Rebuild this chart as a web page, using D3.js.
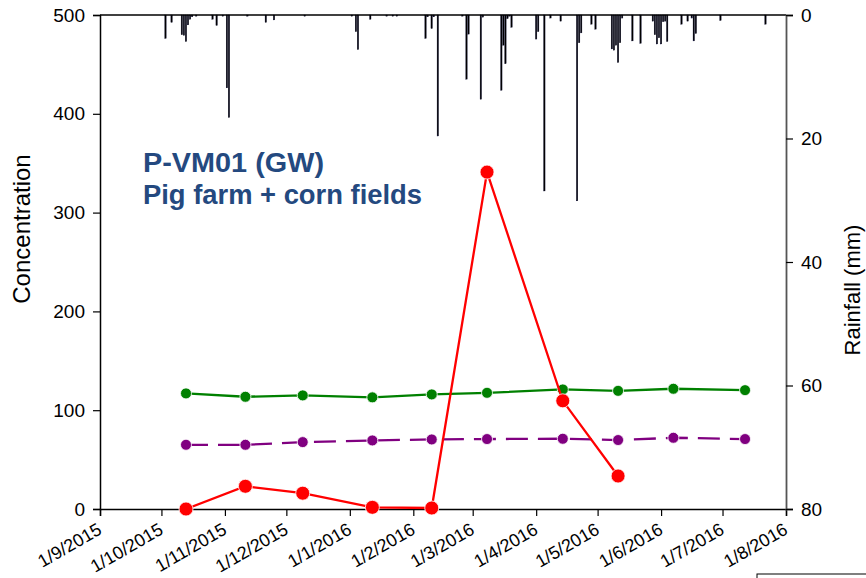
<!DOCTYPE html>
<html>
<head>
<meta charset="utf-8">
<script src="https://cdn.jsdelivr.net/npm/d3@7"></script>
<style>
  body { margin: 0; background: #fff; }
  svg { display: block; }
  text { font-family: "Liberation Sans", Arial, sans-serif; }
</style>
</head>
<body>
<svg id="chart" width="866" height="578"></svg>
<script>
// ---------- data ----------
const xTickLabels = ["1/9/2015","1/10/2015","1/11/2015","1/12/2015","1/1/2016","1/2/2016","1/3/2016","1/4/2016","1/5/2016","1/6/2016","1/7/2016","1/8/2016"];
const yLeftTicks = [0, 100, 200, 300, 400, 500];
const yRightTicks = [0, 20, 40, 60, 80];

const sampleDates = ["2015-10-13","2015-11-11","2015-12-09","2016-01-12","2016-02-10","2016-03-08","2016-04-14","2016-05-11","2016-06-07","2016-07-12"];
const greenValues  = [117, 113.6, 115, 113, 116, 117.6, 121, 119.6, 121.7, 120.3];
const purpleValues = [65, 65, 67.7, 69.4, 70.4, 70.8, 71.1, 69.8, 72.1, 70.8];
const redValues    = [0, 23, 16, 1.7, 1, 341, 109.5, 33.4];

const rainDates = ["2015-10-03","2015-10-06","2015-10-11","2015-10-12","2015-10-13","2015-10-14","2015-10-15","2015-10-16","2015-10-18","2015-10-26","2015-10-28","2015-10-31","2015-11-02","2015-11-03","2015-11-12","2015-11-21","2015-11-25","2015-12-10",
  "2016-01-02","2016-01-04","2016-01-05","2016-01-11","2016-01-19","2016-01-22","2016-01-24","2016-02-07","2016-02-08","2016-02-10","2016-02-11","2016-02-13","2016-02-25","2016-02-27","2016-02-28",
  "2016-03-05","2016-03-06","2016-03-15","2016-03-16","2016-03-17","2016-03-18","2016-03-19","2016-03-20","2016-04-01","2016-04-02","2016-04-05","2016-04-08","2016-04-13","2016-04-21","2016-04-22","2016-04-23","2016-04-28","2016-04-30",
  "2016-05-08","2016-05-09","2016-05-10","2016-05-11","2016-05-12","2016-05-13","2016-05-18","2016-05-22","2016-05-28","2016-05-29","2016-05-30","2016-05-31","2016-06-01","2016-06-02","2016-06-03","2016-06-04",
  "2016-06-11","2016-06-14","2016-06-16","2016-06-17","2016-06-18","2016-06-30","2016-07-22"];
const rainMm = [3.8, 1.2, 3.2, 3.3, 4.3, 1.6, 0.7, 0.3, 0.2, 0.7, 1.7, 0.2, 11.8, 16.6, 0.2, 1.2, 0.8, 0.2,
  0.2, 2.7, 5.6, 0.7, 0.2, 0.2, 0.2, 3.8, 0.3, 2.2, 0.3, 19.6, 0.2, 10.4, 3.1,
  13.65, 0.35, 12.2, 4.9, 7.9, 0.6, 0.2, 2.0, 3.9, 2.7, 28.5, 0.5, 1.0, 30.1, 4.5, 2.9, 1.5, 2.3,
  5.5, 5.7, 4.9, 7.7, 4.5, 0.5, 4.2, 4.6, 1.0, 3.2, 4.7, 3.7, 4.7, 1.1, 1.0, 4.3,
  1.5, 1.0, 0.5, 4.2, 3.0, 0.9, 1.5];

const titleLines = ["P-VM01 (GW)", "Pig farm + corn fields"];

// ---------- setup ----------
const parseISO = d3.utcParse("%Y-%m-%d");
const parseTick = d3.utcParse("%d/%m/%Y");
const fmtTick = d => `${d.getUTCDate()}/${d.getUTCMonth() + 1}/${d.getUTCFullYear()}`;

const L = 100, R = 786, T = 15, B = 509;
const svg = d3.select("#chart");

const tickDates = xTickLabels.map(parseTick);
const x = d3.scaleUtc().domain([tickDates[0], tickDates[tickDates.length - 1]]).range([L, R]);
const y = d3.scaleLinear().domain([0, 500]).range([B, T]);
const y2 = d3.scaleLinear().domain([0, 80]).range([T, B]);

// ---------- rainfall bars ----------
const dayW = x(parseISO("2016-01-02")) - x(parseISO("2016-01-01"));
const rain = rainDates.map((d, i) => ({ date: parseISO(d), mm: rainMm[i] }));
svg.append("g").selectAll("rect").data(rain).join("rect")
  .attr("x", d => x(d.date) - dayW * 0.4)
  .attr("width", dayW * 0.75)
  .attr("y", y2(0))
  .attr("height", d => y2(d.mm) - y2(0))
  .attr("fill", "#000")
  .attr("stroke", "#15153f")
  .attr("stroke-width", 0.3);

// ---------- frame / axes ----------
svg.append("line").attr("x1", L).attr("x2", R).attr("y1", T).attr("y2", T)
  .attr("stroke", "#000").attr("stroke-width", 1.5);

const xAxis = svg.append("g").attr("transform", `translate(0,${B})`)
  .call(d3.axisBottom(x).tickValues(tickDates).tickSize(7).tickFormat(""));
xAxis.select(".domain").attr("stroke-width", 1.5);
xAxis.selectAll(".tick line").attr("stroke-width", 1.2);

svg.append("g").selectAll("text").data(tickDates).join("text")
  .attr("transform", d => `translate(${x(d) + 3},${B + 24}) rotate(-30)`)
  .attr("text-anchor", "end")
  .attr("font-size", 18)
  .attr("fill", "#000")
  .text(fmtTick);

const yAxis = svg.append("g").attr("transform", `translate(${L},0)`)
  .call(d3.axisLeft(y).tickValues(yLeftTicks).tickSize(7).tickPadding(8).tickFormat(d3.format("d")));
yAxis.select(".domain").attr("stroke-width", 1.5);
yAxis.selectAll(".tick line").attr("stroke-width", 1.2);
yAxis.selectAll("text").attr("font-size", 19).attr("font-family", "Liberation Sans, Arial, sans-serif");

const yAxis2 = svg.append("g").attr("transform", `translate(${R},0)`)
  .call(d3.axisRight(y2).tickValues(yRightTicks).tickSize(7).tickPadding(8).tickFormat(d3.format("d")));
yAxis2.select(".domain").attr("stroke", "#555").attr("stroke-width", 1.8);
yAxis2.selectAll(".tick line").attr("stroke-width", 1.2);
yAxis2.selectAll("text").attr("font-size", 19).attr("font-family", "Liberation Sans, Arial, sans-serif");

svg.append("text")
  .attr("transform", `translate(30,229) rotate(-90)`)
  .attr("text-anchor", "middle").attr("font-size", 24).text("Concentration");
svg.append("text")
  .attr("transform", `translate(860,290) rotate(-90)`)
  .attr("text-anchor", "middle").attr("font-size", 22).text("Rainfall (mm)");

// ---------- series ----------
const dates = sampleDates.map(parseISO);
const series = [
  { vals: greenValues, color: "#008000", dash: null, r: 5.5 },
  { vals: purpleValues, color: "#800080", dash: "22,10", r: 5.5 },
  { vals: redValues, color: "#ff0000", dash: null, r: 7 }
];
const line = d3.line().x(d => x(d.date)).y(d => y(d.v));
series.forEach(s => {
  const pts = s.vals.map((v, i) => ({ date: dates[i], v }));
  svg.append("path").datum(pts)
    .attr("d", line)
    .attr("fill", "none")
    .attr("stroke", s.color)
    .attr("stroke-width", 2.3)
    .attr("stroke-dasharray", s.dash);
  svg.append("g").selectAll("circle").data(pts).join("circle")
    .attr("cx", d => x(d.date)).attr("cy", d => y(d.v))
    .attr("r", s.r).attr("fill", s.color)
    .attr("stroke", "#fff").attr("stroke-width", 0.8);
});

// ---------- title ----------
const lens = [181, 279];
titleLines.forEach((t, i) => {
  svg.append("text")
    .attr("x", 143).attr("y", 172 + i * 32)
    .attr("font-family", "'Open Sans', sans-serif")
    .attr("font-weight", "bold")
    .attr("font-size", 27)
    .attr("fill", "#24497f")
    .attr("textLength", lens[i])
    .attr("lengthAdjust", "spacingAndGlyphs")
    .text(t);
});

// partial box at bottom right (cropped element of the original figure)
svg.append("rect").attr("x", 757).attr("y", 574).attr("width", 120).attr("height", 20)
  .attr("fill", "none").attr("stroke", "#000").attr("stroke-width", 1);
</script>
</body>
</html>
